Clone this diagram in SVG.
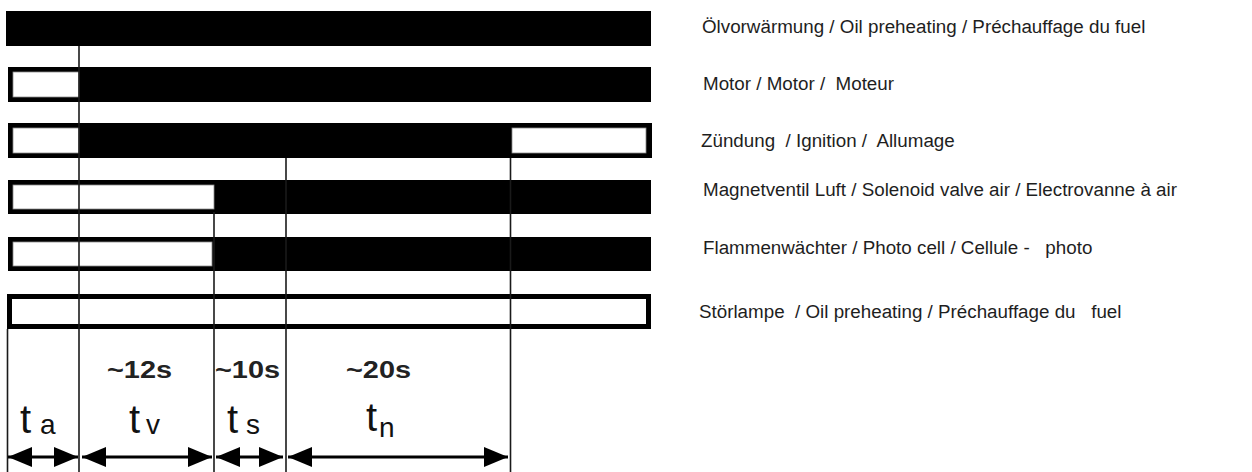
<svg xmlns="http://www.w3.org/2000/svg" width="1252" height="472" viewBox="0 0 1252 472">
<style>
.bar{fill:#000}
.off{fill:#fff;stroke:#8a8a8a;stroke-width:0.8}
.frame{fill:#fff;stroke:#000;stroke-width:5}
.vl{stroke:#1a1a1a;stroke-width:1.6;fill:none}
.arr{stroke:#000;stroke-width:3;fill:none;marker-start:url(#ah);marker-end:url(#ah)}
.lbl{font-family:"Liberation Sans",Arial,sans-serif;font-size:18.8px;fill:#1e1e1e;white-space:pre}
.dur{font-family:"Liberation Sans",Arial,sans-serif;font-size:23px;font-weight:bold;fill:#222}
.t{font-family:"Liberation Sans",Arial,sans-serif;font-size:40px;fill:#111}
.sub{font-family:"Liberation Sans",Arial,sans-serif;font-size:28px;fill:#111}
</style>
<defs>
<marker id="ah" viewBox="0 0 24 20" refX="24" refY="10" markerWidth="24" markerHeight="20" markerUnits="userSpaceOnUse" orient="auto-start-reverse">
<path d="M0,0 L24,10 L0,20 z" fill="#000"/>
</marker>
</defs>
<rect width="1252" height="472" fill="#fff"/>
<g id="row1">
<rect class="bar" x="6" y="11" width="645" height="35"/>
<text class="lbl" x="702" y="33">Ölvorwärmung / Oil preheating / Préchauffage du fuel</text>
</g>
<g id="row2">
<rect class="bar" x="8" y="67" width="643" height="35"/>
<rect class="off" x="13" y="72" width="66" height="25"/>
<text class="lbl" x="703" y="90">Motor / Motor /  Moteur</text>
</g>
<g id="row3">
<rect class="bar" x="8" y="123" width="644" height="35"/>
<rect class="off" x="13" y="128" width="66" height="25"/>
<rect class="off" x="512" y="128" width="134" height="25"/>
<text class="lbl" x="701" y="147">Zündung  / Ignition /  Allumage</text>
</g>
<g id="row4">
<rect class="bar" x="8" y="180" width="643" height="34"/>
<rect class="off" x="13" y="185" width="201" height="24"/>
<text class="lbl" x="703" y="196">Magnetventil Luft / Solenoid valve air / Electrovanne à air</text>
</g>
<g id="row5">
<rect class="bar" x="8" y="237" width="643" height="34"/>
<rect class="off" x="13" y="242" width="199" height="24"/>
<text class="lbl" x="703" y="254">Flammenwächter / Photo cell / Cellule -   photo</text>
</g>
<g id="row6">
<rect class="frame" x="9.5" y="296.5" width="639" height="30"/>
<text class="lbl" x="699" y="318">Störlampe  / Oil preheating / Préchauffage du   fuel</text>
</g>
<g id="connectors">
<line class="vl" x1="79" y1="46" x2="79" y2="472"/>
<line class="vl" x1="214" y1="212" x2="214" y2="472"/>
<line class="vl" x1="286" y1="158" x2="286" y2="472"/>
<line class="vl" x1="510.5" y1="158" x2="510.5" y2="472"/>
<line class="vl" x1="7.5" y1="329" x2="7.5" y2="472"/>
<line class="arr" x1="8" y1="457" x2="78" y2="457"/>
<line class="arr" x1="82" y1="457" x2="212" y2="457"/>
<line class="arr" x1="216" y1="457" x2="283" y2="457"/>
<line class="arr" x1="288" y1="457" x2="508" y2="457"/>
</g>
<g id="timings">
<text class="dur" x="107" y="378" textLength="65" lengthAdjust="spacingAndGlyphs">~12s</text>
<text class="dur" x="215" y="378" textLength="65" lengthAdjust="spacingAndGlyphs">~10s</text>
<text class="dur" x="346" y="378" textLength="65" lengthAdjust="spacingAndGlyphs">~20s</text>
<text class="t" x="20" y="433">t</text><text class="sub" x="40" y="434">a</text>
<text class="t" x="129" y="433">t</text><text class="sub" x="146" y="434">v</text>
<text class="t" x="227" y="433">t</text><text class="sub" x="246" y="434">s</text>
<text class="t" x="366" y="431">t</text><text class="sub" x="379" y="437">n</text>
</g>
</svg>
